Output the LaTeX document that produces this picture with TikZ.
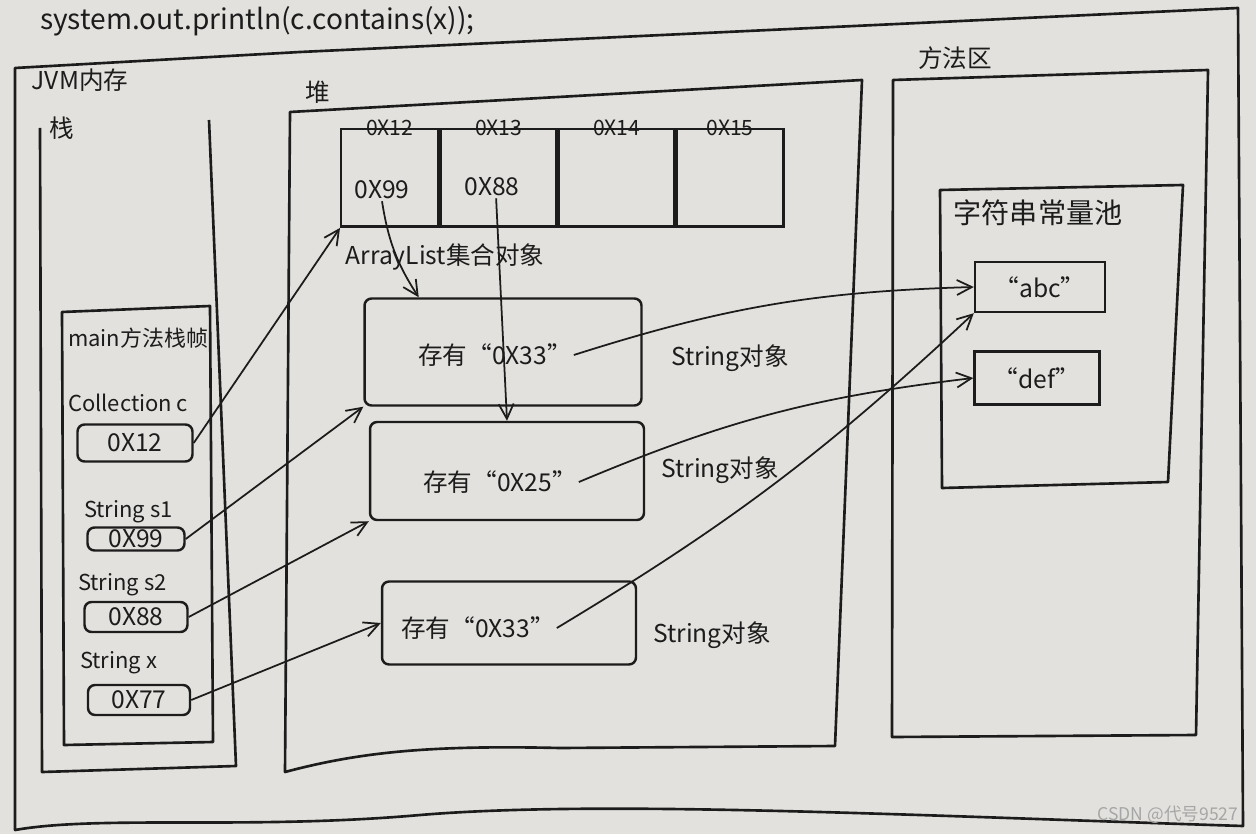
\documentclass[tikz,border=0pt]{standalone}
\usepackage{fontspec}
\setmainfont{Noto Sans CJK SC}
\usetikzlibrary{arrows.meta}
\definecolor{paper}{RGB}{226,225,221}
\definecolor{ink}{RGB}{28,28,28}

\begin{document}
\begin{tikzpicture}[x=0.02cm, y=-0.02cm,
    every node/.style = {font=\fontsize{14}{16}\selectfont, text=ink, inner sep=1pt},
    varname/.style = {anchor=west, font=\fontsize{12.5}{14}\selectfont},
    wall/.style = {draw=ink, line width=1.5pt, line join=round},
    slot/.style = {draw=ink, line width=1.4pt, rounded corners=4pt},
    cellbox/.style = {draw=ink, line width=1.4pt, minimum height=1.95cm, inner sep=0pt},
    poolbox/.style = {draw=ink, line width=1.4pt},
    link/.style = {draw=ink, line width=1pt, -{Straight Barb[length=3mm,width=3mm]}}]

  \fill[paper] (0,0) rectangle (1256,834);
  \useasboundingbox (0,0) rectangle (1256,834);

  % code line at the top
  \node[anchor=base west, font=\fontsize{16}{18}\selectfont] (code) at (38,30) {system.out.println(c.contains(x));};

  % JVM memory
  \draw[wall] (15,68) -- (300,52) -- (1238,8) -- (1243,826)
    .. controls (900,815) and (600,800) .. (420,815) .. controls (250,830) and (100,815) .. (15,830) -- cycle;
  \node (jvm) at (80,80) {JVM内存};

  % stack
  \draw[wall] (40,128) -- (42,772) -- (236,766) -- (209,120);
  \node (stack) at (62,128) {栈};
  \draw[wall] (62,312) -- (64,745) -- (213,742) -- (210,306) -- cycle;
  \node[varname] (frame) at (66,338) {main方法栈帧};

  \node[varname] (lc) at (66,403) {Collection c};
  \node[slot, minimum width=2.3cm, minimum height=0.74cm] (c12) at (135,443) {0X12};
  \node[varname] (ls1) at (82,512) {String s1};
  \node[slot, minimum width=1.94cm, minimum height=0.46cm, inner sep=0pt] (s1) at (136,539) {0X99};
  \node[varname] (ls2) at (76,585) {String s2};
  \node[slot, minimum width=2.06cm, minimum height=0.6cm] (s2) at (136,617) {0X88};
  \node[varname] (lx) at (78,663) {String x};
  \node[slot, minimum width=2.04cm, minimum height=0.6cm] (sx) at (139,700) {0X77};

  % heap
  \draw[wall] (290,112) -- (862,80) -- (835,746) -- (560,748)
    .. controls (430,745) and (360,752) .. (285,772) -- cycle;
  \node (heap) at (318,92) {堆};

  \node[cellbox, minimum width=1.94cm, anchor=north west] (cellA) at (340,128) {};
  \node[cellbox, minimum width=2.32cm, anchor=north west] (cellB) at (cellA.north east) {};
  \node[cellbox, minimum width=2.3cm, anchor=north west] (cellC) at (cellB.north east) {};
  \node[cellbox, minimum width=2.14cm, anchor=north west] (cellD) at (cellC.north east) {};
  \node[font=\fontsize{12}{14}\selectfont] (a12) at (cellA.north) {0X12};
  \node[font=\fontsize{12}{14}\selectfont] (a13) at (cellB.north) {0X13};
  \node[font=\fontsize{12}{14}\selectfont] (a14) at (cellC.north) {0X14};
  \node[font=\fontsize{12}{14}\selectfont] (a15) at (cellD.north) {0X15};
  \node (v99) at (382,190) {0X99};
  \node (v88) at (492,187) {0X88};
  \node (alist) at (445,257) {ArrayList集合对象};

  \node[slot, minimum width=5.54cm, minimum height=2.14cm] (obj1) at (503,352) {};
  \node (t1) at (495,355) {存有“0X33”};
  \node (n1) at (730,358) {String对象};
  \node[slot, minimum width=5.48cm, minimum height=1.96cm] (obj2) at (507,471) {};
  \node (t2) at (500,482) {存有“0X25”};
  \node (n2) at (720,470) {String对象};
  \node[slot, minimum width=5.08cm, minimum height=1.66cm] (obj3) at (509,623) {};
  \node (t3) at (478,628) {存有“0X33”};
  \node (n3) at (712,635) {String对象};

  % method area
  \draw[wall] (893,80) -- (1208,70) -- (1196,735) -- (892,737) -- cycle;
  \node (method) at (955,58) {方法区};
  \draw[wall] (940,190) -- (1183,185) -- (1168,482) -- (942,488) -- cycle;
  \node[font=\fontsize{16}{18}\selectfont] (pool) at (1038,213) {字符串常量池};
  \node[poolbox, minimum width=2.6cm, minimum height=1cm] (abc) at (1040,287) {“abc”};
  \node[poolbox, minimum width=2.5cm, minimum height=1.06cm] (def) at (1037,378) {“def”};

  % references
  \draw[link] (c12.east) -- (cellA.south west);
  \draw[link] (s1.east) -- (obj1.south west);
  \draw[link] (s2.east) -- (obj2.south west);
  \draw[link] (sx.east) -- (obj3.west);
  \draw[link] (v99.south) to[bend right=12] (obj1.147);
  \draw[link] (v88.-70) -- (obj2.north);
  \draw[link] (t1.east) to[bend left=8] (abc.west);
  \draw[link] (t2.east) to[bend left=8] (def.west);
  \draw[link] (t3.east) to[bend right=6] (abc.south west);

  \node[text=gray!70, font=\fontsize{10}{12}\selectfont] (mark) at (1168,815) {CSDN @代号9527};
\end{tikzpicture}
\end{document}
